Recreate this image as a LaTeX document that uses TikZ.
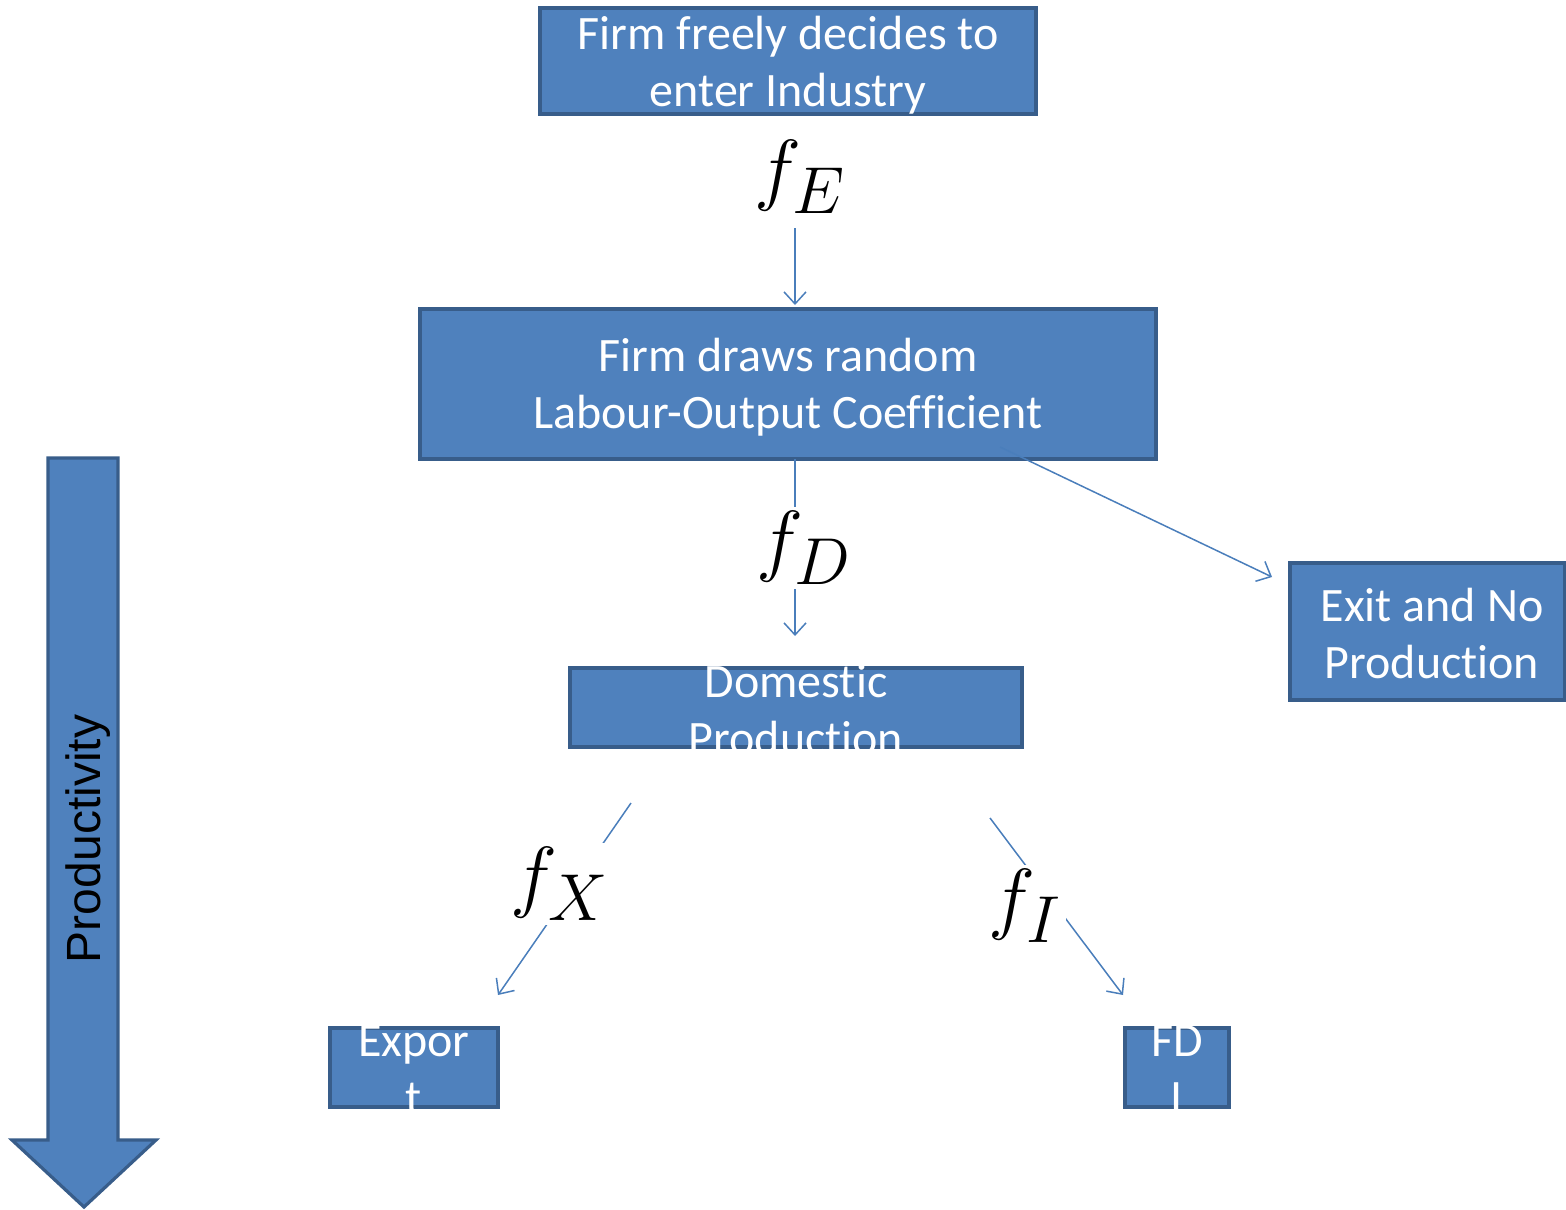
\documentclass[tikz,border=0pt]{standalone}
\usepackage{fontspec}
\setmainfont{Carlito}[Ligatures=NoCommon]
\setsansfont{Liberation Sans}
\usetikzlibrary{arrows.meta}
\definecolor{boxfill}{HTML}{4F81BD}
\definecolor{boxline}{HTML}{385D8A}
\definecolor{conn}{HTML}{4A7EBB}
\newcommand{\bigmath}[1]{\scalebox{1.6}{\Huge$#1$}}
\begin{document}
\begin{tikzpicture}[x=0.5pt,y=-0.5pt,
  box/.style={draw=boxline,fill=boxfill,line width=1.6pt,inner sep=0pt},
  boxtext/.style={text=white,font=\fontsize{24}{28.5}\selectfont,align=center,inner sep=0pt},
  conn/.style={draw=conn,line width=0.75pt,-{Straight Barb[length=6pt,width=11pt,line width=0.75pt]}},
  flabel/.style={fill=white,inner sep=2pt}]
\useasboundingbox (0,0) rectangle (1566,1209);
% boxes
\draw[box] (540,8) rectangle (1036,114);
\node (b1) at (788,65) {};
\node[boxtext] (b1t) at (b1) {Firm freely decides to\\enter Industry};
\draw[box] (420,309) rectangle (1156,459);
\node (b2) at (788,387) {};
\coordinate (b2bot) at (795,459);
\node[boxtext] (b2t) at (b2) {Firm draws random\\Labour-Output Coefficient};
\draw[box] (570,668) rectangle (1022,747);
\node (b3) at (796,710) {};
\node[boxtext] (b3t) at (b3) {Domestic\\Production};
\draw[box] (1290,563) rectangle (1565,700);
\node (b4) at (1432,634) {};
\node[boxtext] (b4t) at (b4) {Exit and No\\Production};
\draw[box] (330,1028) rectangle (498,1107);
\node (b5) at (414,1070) {};
\node[boxtext] (b5t) at (b5) {Expor\\t};
\draw[box] (1125,1028) rectangle (1229,1107);
\node (b6) at (1177,1070) {};
\node[boxtext] (b6t) at (b6) {FD\\I};
% productivity arrow
\draw[box] (48,458) -- (118,458) -- (118,1140) -- (156,1140) -- (84,1207) -- (12,1140) -- (48,1140) -- cycle;
\node[rotate=90,font=\sffamily\fontsize{24}{26}\selectfont,inner sep=0pt] (prod) at (88,839) {Productivity};
% connectors
\coordinate (e1s) at (795,228);
\coordinate (e1e) at (795,305);
\node[inner sep=0pt] (fE) at (800,177) {\bigmath{f_E}};
\draw[conn] (e1s) -- (e1e);
\coordinate (e2e) at (795,636);
\draw[conn] (b2bot) -- (e2e);
\node[flabel] (fD) at (804,548) {\bigmath{f_D}};
\coordinate (e3s) at (1000,447);
\coordinate (e3e) at (1272,577);
\draw[conn] (e3s) -- (e3e);
\coordinate (e4s) at (631,803);
\coordinate (e4e) at (498,995);
\draw[conn] (e4s) -- (e4e);
\node[flabel] (fX) at (560,884) {\bigmath{f_X}};
\coordinate (e5s) at (990,818);
\coordinate (e5e) at (1123,995);
\draw[conn] (e5s) -- (e5e);
\node[flabel] (fI) at (1025,906) {\bigmath{f_I}};
\end{tikzpicture}
\end{document}
